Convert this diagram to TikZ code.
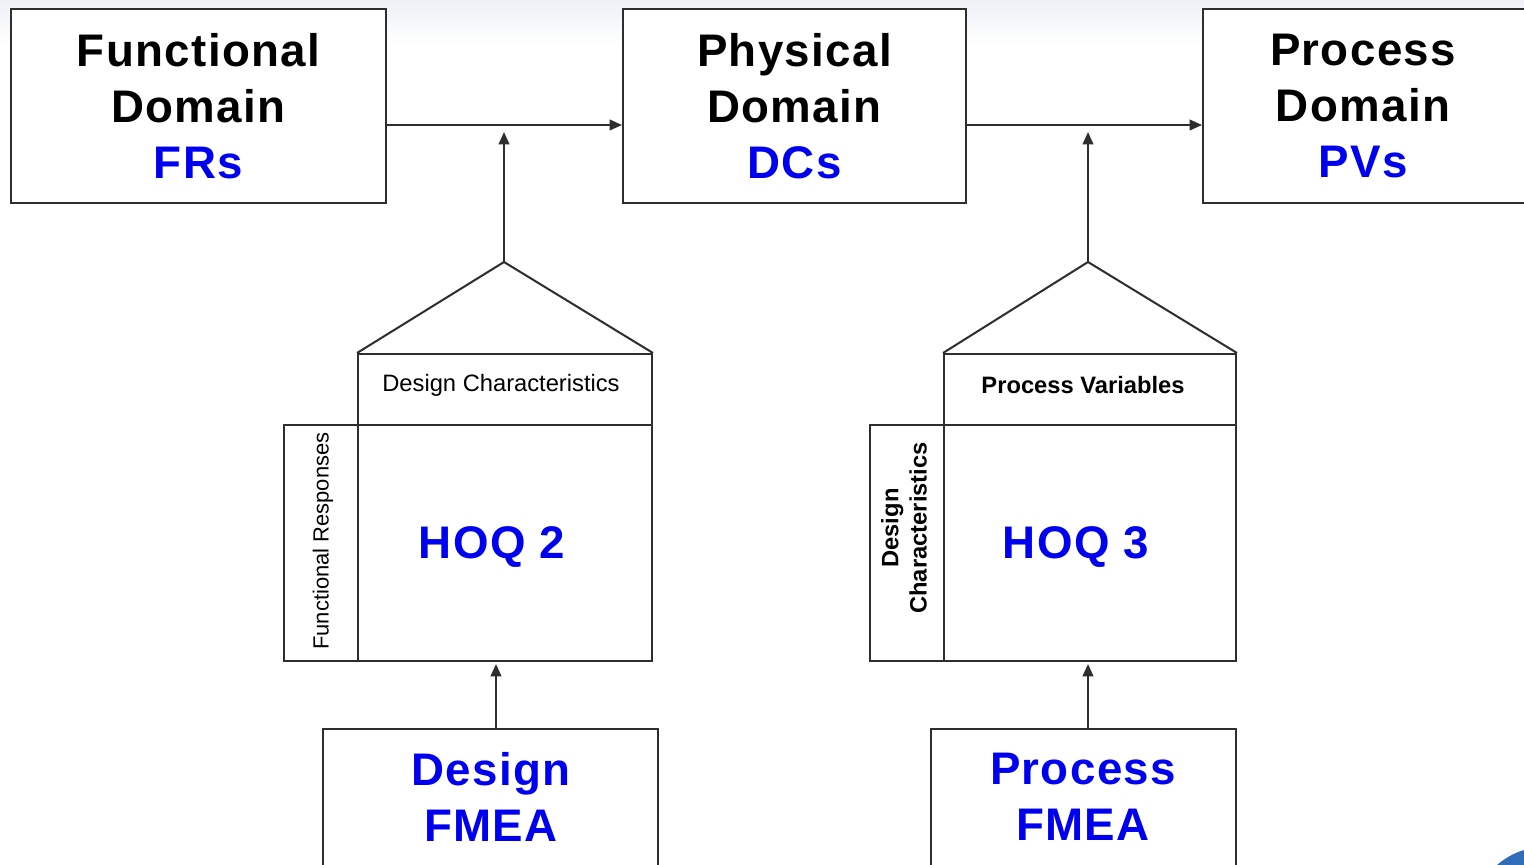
\documentclass[tikz,border=0pt]{standalone}
\usepackage{fontspec}
\setmainfont{Liberation Sans}
\usetikzlibrary{arrows.meta,calc}
\definecolor{linegray}{HTML}{2E2E2E}
\definecolor{hoqblue}{HTML}{0000F0}
\definecolor{skytint}{HTML}{EDF1F6}
\definecolor{swoosh}{HTML}{2F6DB8}
\begin{document}
\begin{tikzpicture}[x=0.02cm,y=-0.02cm,
  box/.style={draw=linegray,line width=1.15pt,fill=white,inner sep=0pt},
  big/.style={font=\bfseries\fontsize{26}{32}\selectfont\addfontfeature{LetterSpace=3},align=center},
  small/.style={font=\fontsize{13.5}{16}\selectfont,align=center},
  smallbold/.style={font=\bfseries\fontsize{13.5}{16}\selectfont,align=center},
  arr/.style={draw=linegray,line width=1.15pt,-{Triangle[length=7pt,width=6pt]}},
  ln/.style={draw=linegray,line width=1.15pt}]

\useasboundingbox (0,0) rectangle (1524,865);

% faint tint along the top edge and the corner ornament
\shade[top color=skytint,bottom color=white] (0,0) rectangle (1524,45);
\fill[swoosh] (1497,865) .. controls (1505,858) and (1514,853) .. (1524,850) -- (1524,865) -- cycle;

% domains
\node[box,big,minimum width=7.5cm,minimum height=3.88cm] (fd) at (198.5,106)
  {Functional\\Domain\\\textcolor{hoqblue}{FRs}};
\node[box,big,minimum width=6.86cm,minimum height=3.88cm] (pd) at (794.5,106)
  {Physical\\Domain\\\textcolor{hoqblue}{DCs}};
\node[box,minimum width=6.54cm,minimum height=3.88cm] (prd) at (1366.5,106) {};
\node[big] (prdtxt) at (1363,106) {Process\\Domain\\\textcolor{hoqblue}{PVs}};

\draw[arr] ([yshift=-0.38cm]fd.east) -- ([yshift=-0.38cm]pd.west);
\draw[arr] ([yshift=-0.38cm]pd.east) -- ([yshift=-0.38cm]prd.west);

% house of quality 2
\node[box,minimum width=5.88cm,minimum height=1.42cm] (h2top) at (505,389.5) {};
\node[small] (h2toptxt) at (501,385) {Design Characteristics};
\node[box,minimum width=1.48cm,minimum height=4.72cm] (h2side) at (321,543) {};
\node[box,minimum width=5.88cm,minimum height=4.72cm] (h2main) at (505,543) {};
\node[small,rotate=90,font=\fontsize{12.5}{15}\selectfont] (h2sidetxt) at (323,541) {Functional Responses};
\node[big,text=hoqblue] (h2txt) at (492,547) {HOQ 2};
\coordinate (h2apex) at (504,262);
\coordinate (h2tip) at (504,132);
\draw[ln] (h2top.north west) -- (h2apex) -- (h2top.north east);
\draw[arr] (h2apex) -- (h2tip);

% house of quality 3
\node[box,minimum width=5.84cm,minimum height=1.42cm] (h3top) at (1090,389.5) {};
\node[smallbold] (h3toptxt) at (1083,385) {Process Variables};
\node[box,minimum width=1.48cm,minimum height=4.72cm] (h3side) at (907,543) {};
\node[box,minimum width=5.84cm,minimum height=4.72cm] (h3main) at (1090,543) {};
\node[smallbold,rotate=90] (h3sidetxt) at (904,528) {Design\\Characteristics};
\node[big,text=hoqblue] (h3txt) at (1076,547) {HOQ 3};
\coordinate (h3apex) at (1088,262);
\coordinate (h3tip) at (1088,132);
\draw[ln] (h3top.north west) -- (h3apex) -- (h3top.north east);
\draw[arr] (h3apex) -- (h3tip);

% FMEA inputs
\node[box,minimum width=6.7cm,minimum height=3.02cm] (dfmea) at (490.5,804.5) {};
\node[big,text=hoqblue] (dfmeatxt) at (491,797) {Design\\FMEA};
\node[box,minimum width=6.1cm,minimum height=3.02cm] (pfmea) at (1083.5,804.5) {};
\node[big,text=hoqblue] (pfmeatxt) at (1083,797) {Process\\FMEA};

\draw[arr] ([xshift=0.11cm]dfmea.north) -- ([xshift=0.11cm,yshift=-0.04cm]dfmea.north |- h2main.south);
\draw[arr] ([xshift=0.09cm]pfmea.north) -- ([xshift=0.09cm,yshift=-0.04cm]pfmea.north |- h3main.south);
\end{tikzpicture}
\end{document}
